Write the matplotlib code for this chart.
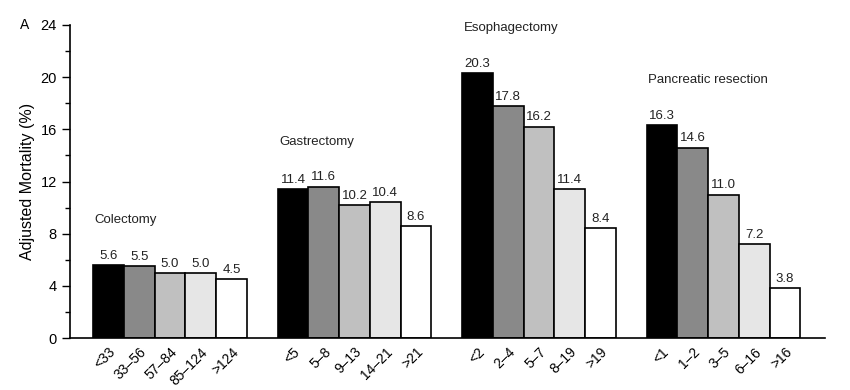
import matplotlib
matplotlib.use("Agg")
import matplotlib.pyplot as plt
import numpy as np

groups = ["Colectomy", "Gastrectomy", "Esophagectomy", "Pancreatic resection"]
colectomy_cats = ["<33", "33\u201356", "57\u201384", "85\u2013124", ">124"]
gastrectomy_cats = ["<5", "5\u20138", "9\u201313", "14\u201321", ">21"]
esophagectomy_cats = ["<2", "2\u20134", "5\u20137", "8\u201319", ">19"]
pancreatic_cats = ["<1", "1\u20132", "3\u20135", "6\u201316", ">16"]
colectomy_vals = [5.6, 5.5, 5.0, 5.0, 4.5]
gastrectomy_vals = [11.4, 11.6, 10.2, 10.4, 8.6]
esophagectomy_vals = [20.3, 17.8, 16.2, 11.4, 8.4]
pancreatic_vals = [16.3, 14.6, 11.0, 7.2, 3.8]

all_cats = [colectomy_cats, gastrectomy_cats, esophagectomy_cats, pancreatic_cats]
all_vals = [colectomy_vals, gastrectomy_vals, esophagectomy_vals, pancreatic_vals]
shades = ["#000000", "#898989", "#c0c0c0", "#e6e6e6", "#ffffff"]

plt.rcParams['font.family'] = ['Liberation Sans', 'DejaVu Sans']
fig = plt.figure(figsize=(8.5, 3.9), dpi=100)
ax = fig.add_axes([0.0824, 0.1333, 0.8882, 0.8026])

tick_pos, tick_lab = [], []
for g, (name, cats, vals) in enumerate(zip(groups, all_cats, all_vals)):
    xs = g * 6 + np.arange(len(vals))
    ax.bar(xs, vals, width=1.0, color=shades, edgecolor="black", linewidth=1.2, zorder=2)
    for x, v in zip(xs, vals):
        ax.text(x, v + 0.25, f"{v:.1f}", ha="center", va="bottom", fontsize=9.5, color="#222222")
    ax.text(xs[0] - 0.45, max(vals) + 3.45, name, ha="left", va="center", fontsize=9.5, color="#222222")
    tick_pos += list(xs)
    tick_lab += cats

ax.set_xlim(-1.25, 23.3)
ax.set_ylim(0, 24)
ax.set_yticks(np.arange(0, 25, 4))
ax.set_yticks(np.arange(0, 25, 2), minor=True)
ax.tick_params(axis="y", which="major", length=6, width=1, direction="out", labelsize=10.5)
ax.tick_params(axis="y", which="minor", length=3.5, width=1, direction="out")
ax.set_xticks(tick_pos)
ax.set_xticklabels(tick_lab, rotation=45, ha="right", rotation_mode="anchor", fontsize=10)
ax.tick_params(axis="x", length=0, pad=5)
for s in ["top", "right"]:
    ax.spines[s].set_visible(False)
ax.spines["left"].set_linewidth(1.2)
ax.spines["bottom"].set_linewidth(1.2)
ax.set_ylabel("Adjusted Mortality (%)", fontsize=11.5)
fig.text(0.024, 0.936, "A", fontsize=10, ha="left", va="center")

fig.savefig("out.png", dpi=100)
